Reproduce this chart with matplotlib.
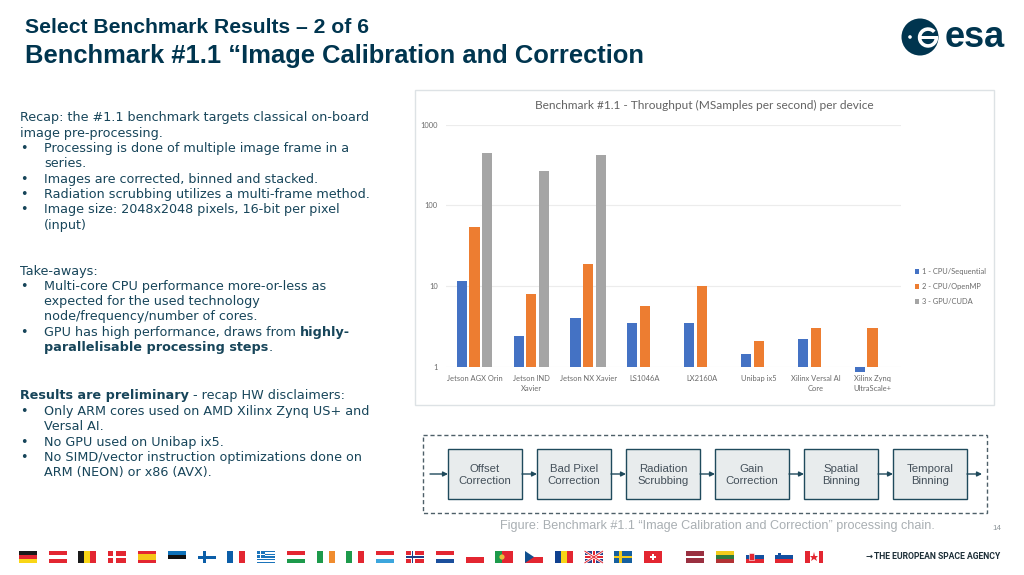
import matplotlib
matplotlib.use('Agg')
import matplotlib.pyplot as plt
from matplotlib.patches import Rectangle, Circle, Wedge, Polygon
import numpy as np

devices = ['Jetson AGX Orin', 'Jetson IND\nXavier', 'Jetson NX Xavier', 'LS1046A', 'LX2160A',
           'Unibap ix5', 'Xilinx Versal AI\nCore', 'Xilinx Zynq\nUltraScale+']
cpu_seq = [11.4, 2.42, 4.0, 3.5, 3.5, 1.45, 2.2, 0.85]
cpu_omp = [53, 8.0, 18.6, 5.7, 10.1, 2.06, 3.0, 3.0]
gpu_cuda = [448, 266, 423, np.nan, np.nan, np.nan, np.nan, np.nan]
series_names = ['1 - CPU/Sequential', '2 - CPU/OpenMP', '3 - GPU/CUDA']
y_ticks = [1, 10, 100, 1000]

steps = ['Offset\nCorrection', 'Bad Pixel\nCorrection', 'Radiation\nScrubbing',
         'Gain\nCorrection', 'Spatial\nBinning', 'Temporal\nBinning']

# (y, text, bullet)
left_lines = [
    (117, 'Recap: the #1.1 benchmark targets classical on-board', False),
    (132.5, 'image pre-processing.', False),
    (148, 'Processing is done of multiple image frame in a', True),
    (163, 'series.', None),
    (179, 'Images are corrected, binned and stacked.', True),
    (194, 'Radiation scrubbing utilizes a multi-frame method.', True),
    (209, 'Image size: 2048x2048 pixels, 16-bit per pixel', True),
    (225, '(input)', None),
    (271, 'Take-aways:', False),
    (286, 'Multi-core CPU performance more-or-less as', True),
    (301, 'expected for the used technology', None),
    (316, 'node/frequency/number of cores.', None),
    (411, 'Only ARM cores used on AMD Xilinx Zynq US+ and', True),
    (426, 'Versal AI.', None),
    (442, 'No GPU used on Unibap ix5.', True),
    (457, 'No SIMD/vector instruction optimizations done on', True),
    (472, 'ARM (NEON) or x86 (AVX).', None),
]

TEAL = '#00354f'
TEXT = '#17455a'
FIG_W, FIG_H = 1024, 575

plt.rcParams['font.family'] = ['DejaVu Sans']
fig = plt.figure(figsize=(FIG_W / 100, FIG_H / 100), dpi=100)

# slide layer in pixel coordinates
bg = fig.add_axes([0, 0, 1, 1])
bg.set_xlim(0, FIG_W)
bg.set_ylim(FIG_H, 0)
bg.axis('off')

bg.text(25, 33, 'Select Benchmark Results \u2013 2 of 6', family='Liberation Sans', weight='bold',
        fontsize=15.2, color=TEAL, va='baseline')
bg.text(25, 63, 'Benchmark #1.1 \u201cImage Calibration and Correction', family='Liberation Sans',
        weight='bold', fontsize=18.35, color=TEAL, va='baseline')

# logo
bg.add_patch(Circle((920, 37), 18.5, fc=TEAL, ec='none'))
bg.add_patch(Circle((910, 37), 1.8, fc='white', ec='none'))
bg.add_patch(Wedge((928, 37.5), 10.2, 0, 318, width=3.6, fc='white', ec='none'))
bg.add_patch(Rectangle((919, 36.4), 19.2, 2.3, fc='white', ec='none'))
bg.text(974.5, 47, 'esa', family='Liberation Sans', weight='bold', fontsize=26, color=TEAL,
        ha='center', va='baseline')

# left column
LEFT_SIZE = 9.2
for y, line, bullet in left_lines:
    x = 20 if bullet is False else 44
    bg.text(x, y + 4, line, fontsize=LEFT_SIZE, color=TEXT, va='baseline')
    if bullet:
        bg.text(20, y + 4, '\u2022', fontsize=LEFT_SIZE, color=TEXT, va='baseline')

bg.text(20, 336, '\u2022', fontsize=LEFT_SIZE, color=TEXT, va='baseline')


def run_of_text(x, y, parts):
    # normal and bold pieces on one line
    for part, weight in parts:
        t = bg.text(x, y + 4, part, fontsize=LEFT_SIZE, color=TEXT, va='baseline', weight=weight)
        box = t.get_window_extent(fig.canvas.get_renderer())
        x = box.x1


run_of_text(44, 332, [('GPU has high performance, draws from ', 'normal'), ('highly-', 'bold')])
run_of_text(44, 347, [('parallelisable processing steps', 'bold'), ('.', 'normal')])
run_of_text(20, 395, [('Results are preliminary', 'bold'), (' - recap HW disclaimers:', 'normal')])

# chart frame
bg.add_patch(Rectangle((415, 90), 579, 315, fc='white', ec='#dde2e5', lw=1))
bg.text(704.5, 105.5, 'Benchmark #1.1 - Throughput (MSamples per second) per device', family='Lato',
        fontsize=8.6, color='#636363', ha='center', va='center')

# chart
ax = fig.add_axes([446 / FIG_W, 1 - 366.7 / FIG_H, 455 / FIG_W, (366.7 - 124.5) / FIG_H])
ax.patch.set_alpha(0)
ax.set_yscale('log')
ax.set_ylim(1, 1000)
ax.set_xlim(-0.5, 7.5)
x = np.arange(len(devices))
colors = ['#4472c4', '#ed7d31', '#a5a5a5']
for i, (vals, col, name) in enumerate(zip([cpu_seq, cpu_omp, gpu_cuda], colors, series_names)):
    vals = np.array(vals)
    ax.bar(x + (i - 1) * 0.223, vals - 1, 0.18, bottom=1, color=col, label=name, clip_on=False, zorder=3)
ax.set_yticks(y_ticks)
ax.set_yticklabels([str(v) for v in y_ticks])
ax.minorticks_off()
ax.set_xticks(x)
ax.set_xticklabels(devices, linespacing=1.55)
ax.tick_params(length=0, labelsize=5.4, labelcolor='#6a6a6a', pad=6)
for lab in ax.get_xticklabels() + ax.get_yticklabels():
    lab.set_family('Lato')
ax.grid(True, axis='y', color='#ececec', lw=0.8)
ax.set_axisbelow(True)
for s in ax.spines.values():
    s.set_visible(False)
ax.legend(loc='upper left', bbox_to_anchor=(914.5 / FIG_W, 1 - 268 / FIG_H), bbox_transform=fig.transFigure,
          frameon=False, handlelength=0.65, handleheight=0.65, handletextpad=0.4, labelspacing=1.09,
          borderpad=0, borderaxespad=0, prop={'family': 'Lato', 'size': 5.4}, labelcolor='#6a6a6a')

# processing chain
bg.add_patch(Rectangle((423, 435), 564, 78, fc='none', ec='#4d5f68', lw=1, ls=(0, (3, 2))))
for i, step in enumerate(steps):
    left = 448 + i * 89
    bg.add_patch(Rectangle((left, 449), 74, 50, fc='#e8eced', ec='#1f4a5c', lw=1))
    bg.text(left + 37, 475, step, family='Liberation Sans', fontsize=8.2, color='#44505a',
            ha='center', va='center', linespacing=1.2)
    start = 430 if i == 0 else left - 15
    bg.annotate('', xy=(left, 474), xytext=(start, 474),
                arrowprops=dict(arrowstyle='-|>', color='#1f4a5c', lw=1, mutation_scale=7, shrinkA=0, shrinkB=0))
bg.annotate('', xy=(982, 474), xytext=(967, 474),
            arrowprops=dict(arrowstyle='-|>', color='#1f4a5c', lw=1, mutation_scale=7, shrinkA=0, shrinkB=0))
bg.text(717.5, 526, 'Figure: Benchmark #1.1 \u201cImage Calibration and Correction\u201d processing chain.',
        family='Liberation Sans', fontsize=9.1, color='#a9afb3', ha='center', va='center')
bg.text(996.5, 529, '14', family='Liberation Sans', fontsize=5.8, color='#8d9599', ha='center', va='center')


# flags
def bands(x, cols, ratios=None, vertical=False, w=18, h=12, top=551):
    ratios = ratios or [1] * len(cols)
    pos = 0
    total = sum(ratios)
    for c, r in zip(cols, ratios):
        if vertical:
            bg.add_patch(Rectangle((x + w * pos / total, top), w * r / total, h, fc=c, ec='none'))
        else:
            bg.add_patch(Rectangle((x, top + h * pos / total), w, h * r / total, fc=c, ec='none'))
        pos += r


def cross(x, col, back, cx=6.5, t=2.4, w=18, h=12, top=551):
    if back:
        bg.add_patch(Rectangle((x, top), w, h, fc=back, ec='none'))
    bg.add_patch(Rectangle((x, top + h / 2 - t / 2), w, t, fc=col, ec='none'))
    bg.add_patch(Rectangle((x + cx - t / 2, top), t, h, fc=col, ec='none'))


RED, BLUE, GREEN, YEL = '#e32631', '#0b5ea8', '#1d9a4b', '#f7d417'
bands(19, ['#1a1a1a', RED, '#f9d616'])
bands(48.5, [RED, 'white', RED])
bands(78, ['#1a1a1a', '#f9d616', RED], vertical=True)
cross(108, 'white', RED)
bands(138, [RED, '#f5c518', RED], [1, 2, 1])
bands(168, ['#0f72ba', '#111111', 'white'])
cross(197.5, '#0b5ea8', 'white', t=3)
bands(227, [BLUE, 'white', RED], vertical=True)
bands(257, ['#1b74bb', 'white'] * 4 + ['#1b74bb'])
bg.add_patch(Rectangle((257, 551), 7.5, 6.5, fc='#1b74bb', ec='none'))
cross(257, 'white', None, cx=3.7, t=1.2, w=7.5, h=6.5)
bands(287, [RED, 'white', GREEN])
bands(317, [GREEN, 'white', '#f08c2e'], vertical=True)
bands(346, [GREEN, 'white', RED], vertical=True)
bands(376, [RED, 'white', '#3ca6dd'])
cross(406, 'white', RED, t=4)
cross(406, '#1d3f87', None, t=1.8)
bands(436, [RED, 'white', '#1b4f9c'])
bands(466, ['white', RED])
bands(495, [GREEN, RED], [2, 3], vertical=True)
bg.add_patch(Circle((502, 557), 2.6, fc='#e8c23a', ec='none'))
bands(525, ['white', RED])
bg.add_patch(Polygon([(525, 551), (534, 557), (525, 563)], fc='#11508f', ec='none'))
bands(555, ['#10418f', '#f7d417', RED], vertical=True)
bg.add_patch(Rectangle((584.5, 551), 18.5, 12, fc='#2a3f86', ec='none'))
bg.plot([584.5, 603], [551, 563], color='white', lw=1.8, solid_capstyle='butt')
bg.plot([584.5, 603], [563, 551], color='white', lw=1.8, solid_capstyle='butt')
bg.plot([584.5, 603], [551, 563], color=RED, lw=0.7, solid_capstyle='butt')
bg.plot([584.5, 603], [563, 551], color=RED, lw=0.7, solid_capstyle='butt')
cross(584.5, 'white', None, cx=9.25, t=3.6, w=18.5)
cross(584.5, RED, None, cx=9.25, t=2, w=18.5)
cross(614, '#f4ca1a', '#16609f', t=2.6)
bg.add_patch(Rectangle((644, 551), 18, 12, fc=RED, ec='none'))
cross(649.8, 'white', None, cx=3.2, t=1.8, w=6.4, h=6.4, top=553.8)
bands(686, ['#9a3040', 'white', '#9a3040'], [2, 1, 2])
bands(715.5, ['#f2cb1c', '#2d7a3e', '#b33234'])
bands(745.5, ['white', '#1450a0', RED])
bg.add_patch(Rectangle((749, 553), 5, 6.5, fc=RED, ec='white', lw=0.4))
bands(775, ['white', '#1450a0', RED])
bg.add_patch(Rectangle((778, 552.5), 3.2, 3.5, fc='#1450a0', ec='none'))
bands(805, [RED, 'white', RED], [1, 2, 1], vertical=True)
bg.plot([814], [557], marker='*', ms=6.5, color=RED, mew=0)

bg.text(869, 556.5, '\u2192', family='DejaVu Sans', weight='bold', fontsize=6, color='#1d2f38', ha='center', va='center')
bg.text(874, 556.5, 'THE EUROPEAN SPACE AGENCY', family='Roboto', weight='bold', fontsize=6.2,
        color='#1d2f38', va='center')

fig.savefig('out.png', dpi=100)
